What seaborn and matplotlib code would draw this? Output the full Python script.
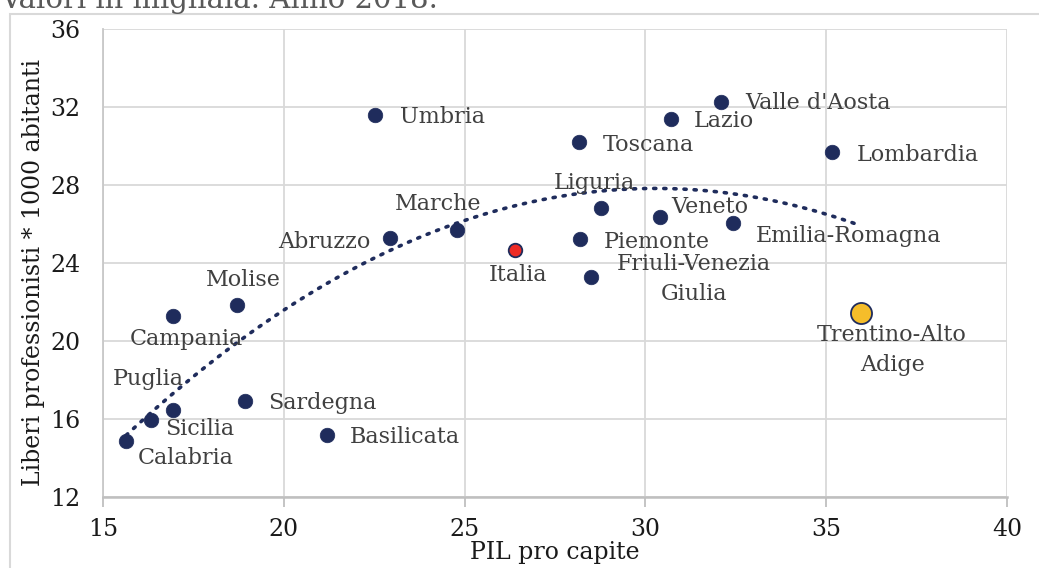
"""
Liberi professionisti per 1000 abitanti vs PIL pro capite, regioni italiane 2018.
"""

import matplotlib
matplotlib.use("Agg")
import matplotlib.pyplot as plt
import numpy as np
import seaborn as sns
from matplotlib.patches import Rectangle

# data
regions = [
    "Calabria", "Sicilia", "Puglia", "Campania", "Molise", "Sardegna",
    "Basilicata", "Umbria", "Abruzzo", "Marche", "Toscana", "Liguria",
    "Piemonte", "Friuli-Venezia\nGiulia", "Veneto", "Lazio", "Valle d'Aosta",
    "Emilia-Romagna", "Lombardia", "Trentino-Alto\nAdige",
]
pil = [15.64, 16.33, 16.94, 16.94, 18.72, 18.93, 21.20, 22.53, 22.95, 24.80,
       28.16, 28.77, 28.19, 28.50, 30.40, 30.70, 32.09, 32.42, 35.17, 35.97]
liberi = [14.87, 15.95, 16.46, 21.28, 21.85, 16.92, 15.18, 31.59, 25.28, 25.69,
          30.20, 26.82, 25.23, 23.28, 26.36, 31.38, 32.26, 26.05, 29.69, 21.44]
italia_pil = [26.40]
italia_liberi = [24.67]

# label offsets in pixels (dx, dy, ha)
label_pos = {
    "Calabria": (12, -17, "left"),
    "Sicilia": (14, -9, "left"),
    "Puglia": (-25, 31, "center"),
    "Campania": (13, -23, "center"),
    "Molise": (6, 25, "center"),
    "Sardegna": (23, -2, "left"),
    "Basilicata": (23, -2, "left"),
    "Umbria": (25, -2, "left"),
    "Abruzzo": (-20, -4, "right"),
    "Marche": (-19, 26, "center"),
    "Toscana": (24, -3, "left"),
    "Liguria": (-6, 25, "center"),
    "Piemonte": (24, -3, "left"),
    "Friuli-Venezia\nGiulia": (103, -2, "center"),
    "Veneto": (11, 10, "left"),
    "Lazio": (23, -2, "left"),
    "Valle d'Aosta": (24, -1, "left"),
    "Emilia-Romagna": (23, -13, "left"),
    "Lombardia": (24, -3, "left"),
    "Trentino-Alto\nAdige": (31, -37, "center"),
}

NAVY = "#1f2c5c"
TEXT = "#404040"
DARK = "#1a1a1a"
GRID = "#d9d9d9"

sns.set_theme(style="whitegrid")
plt.rcParams["font.family"] = ["DejaVu Serif"]

fig = plt.figure(figsize=(10.39, 5.68), dpi=100)
ax = fig.add_axes([0.0991, 0.125, 0.870, 0.824])

main_x = pil[:-1]
main_y = liberi[:-1]
sns.scatterplot(x=main_x, y=main_y, ax=ax, s=110, color=NAVY, edgecolor=NAVY,
                linewidth=0.5, zorder=4)
sns.scatterplot(x=italia_pil, y=italia_liberi, ax=ax, s=95, color="#ee2b25",
                edgecolor=NAVY, linewidth=1.3, zorder=4)
sns.scatterplot(x=pil[-1:], y=liberi[-1:], ax=ax, s=230, color="#f5bd2a",
                edgecolor=NAVY, linewidth=1.3, zorder=4)

# polynomial trend (order 2) over the regions
coef = np.polyfit(pil, liberi, 2)
xs = np.linspace(min(pil), max(pil), 200)
ax.plot(xs, np.polyval(coef, xs), color=NAVY, linestyle=(0, (0.6, 2.2)),
        linewidth=2.6, dash_capstyle="round", zorder=3)

for name, x, y in zip(regions, pil, liberi):
    dx, dy, ha = label_pos[name]
    ax.annotate(name, (x, y), xytext=(dx, dy), textcoords="offset pixels",
                ha=ha, va="center", fontsize=16, color=TEXT,
                linespacing=1.45, zorder=5)
ax.annotate("Italia", (italia_pil[0], italia_liberi[0]), xytext=(3, -25),
            textcoords="offset pixels", ha="center", va="center",
            fontsize=16, color=TEXT, zorder=5)

ax.set_xlim(15, 40)
ax.set_ylim(12, 36)
ax.set_xticks(np.arange(15, 41, 5))
ax.set_yticks(np.arange(12, 37, 4))
ax.grid(True, color=GRID, linewidth=1.3)
ax.set_axisbelow(True)
for side in ["top", "right"]:
    ax.spines[side].set_visible(False)
ax.spines["left"].set_color("#c8c8c8")
ax.spines["left"].set_linewidth(1.3)
ax.spines["bottom"].set_color("#bfbfbf")
ax.spines["bottom"].set_linewidth(1.8)
ax.tick_params(axis="x", which="major", bottom=True, length=7, width=1.3,
               color="#bfbfbf", labelsize=17, labelcolor=DARK, pad=8)
ax.tick_params(axis="y", left=False, labelsize=17, labelcolor=DARK, pad=10)
ax.set_xlabel("PIL pro capite", fontsize=17, color=DARK, labelpad=0)
ax.set_ylabel("Liberi professionisti * 1000 abitanti", fontsize=17,
              color=DARK)
ax.yaxis.set_label_coords(-0.064, 0.48)

# frame around the chart and the clipped subtitle above it
fig.patches.append(Rectangle((10 / 1039, -0.1), 1.2, 1.1 - 14 / 568,
                             transform=fig.transFigure, fill=False,
                             edgecolor="#d9d9d9", linewidth=1.5))
fig.text(0.0, 1 - 8 / 568, "Valori in migliaia. Anno 2018.", fontsize=21,
         color="#595959", va="baseline", ha="left")

fig.savefig("out.png", dpi=100)
